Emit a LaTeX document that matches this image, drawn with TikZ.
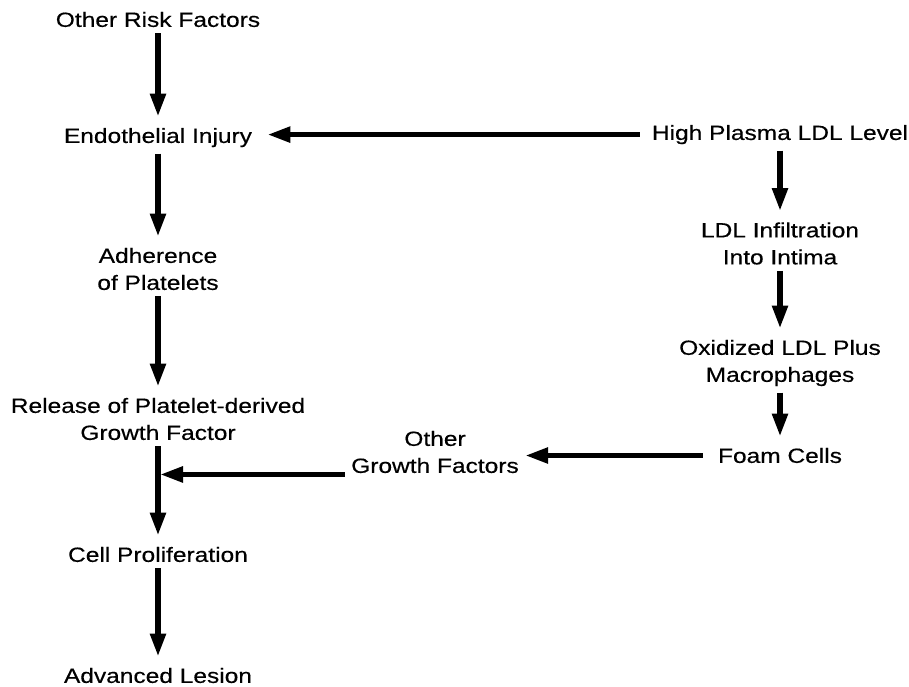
\documentclass[tikz,border=0pt]{standalone}
\usepackage{fontspec}
\setmainfont[FakeStretch=1.19,FakeBold=0.4]{Liberation Sans}
\usetikzlibrary{arrows.meta}
\begin{document}
\begin{tikzpicture}[x=0.5pt,y=-0.5pt,
    every node/.style={font=\fontsize{10.3pt}{13.5pt}\selectfont, align=center, inner xsep=3pt, inner ysep=3pt},
    arr/.style={line width=2.7pt, -{Triangle[length=11.5pt,width=7.5pt]}}]
    \useasboundingbox (0,0) rectangle (909,686);
    % left column
    \node (risk) at (158,19.5) {Other Risk Factors};
    \node (endo) at (158,137.6) {Endothelial Injury};
    \node (adh) at (158,269) {Adherence\\of Platelets};
    \node (rel) at (158,419) {Release of Platelet-derived\\Growth Factor};
    \node (cell) at (158,554.5) {Cell Proliferation};
    \node (adv) at (158,675.5) {Advanced Lesion};
    % right column
    \node (hpl) at (780,134.6) {High Plasma LDL Level};
    \node (infil) at (780,243.5) {LDL Infiltration\\Into Intima};
    \node (oxid) at (780,363) {Oxidized LDL Plus\\Macrophages};
    \node (foam) at (780,455.5) {Foam Cells};
    \node (ogf) at (435,452) {Other\\Growth Factors};
    \foreach \a/\b in {risk/endo, endo/adh, adh/rel, rel/cell, cell/adv, hpl/infil, infil/oxid, oxid/foam}
    \draw[arr, shorten >=2.5pt] (\a.south) -- (\b.north);
    \draw[arr, shorten <=3pt, shorten >=4.5pt] (hpl.west) -- (hpl.west -| endo.east);
    \draw[arr, shorten <=4.5pt] (foam.west) -- (foam.west -| ogf.east);
    \coordinate (ogfout) at ([yshift=2.5pt]ogf.south west);
    \draw[arr, shorten >=1pt] (ogfout) -- (ogfout -| rel.south);
\end{tikzpicture}
\end{document}
